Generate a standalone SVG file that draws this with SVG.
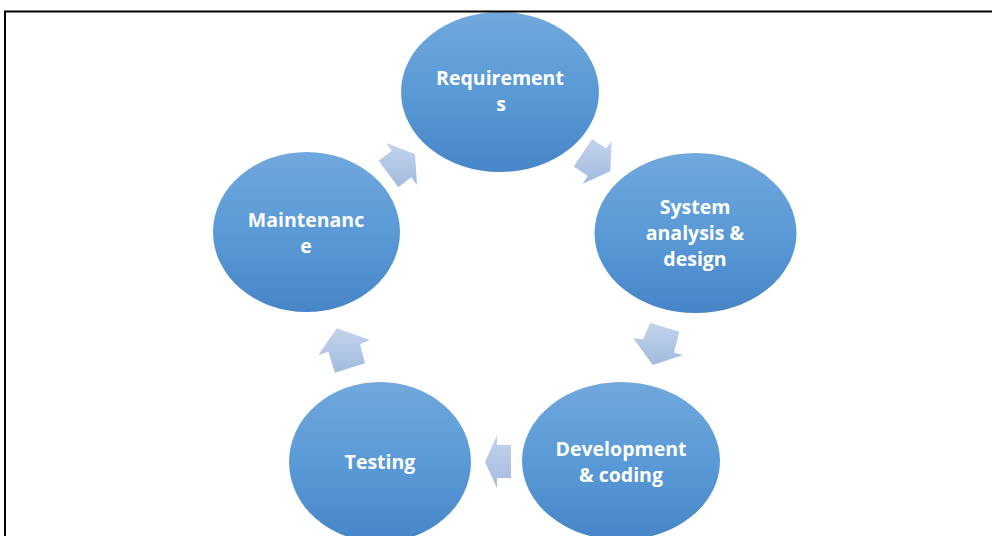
<svg xmlns="http://www.w3.org/2000/svg" width="992" height="536" viewBox="0 0 992 536">
<defs>
<linearGradient id="nodeGrad" x1="0" y1="0" x2="0" y2="1">
<stop offset="0" stop-color="#71a8dd"/>
<stop offset="0.5" stop-color="#5a9ad6"/>
<stop offset="1" stop-color="#4686c8"/>
</linearGradient>
<linearGradient id="arrGrad" x1="0" y1="0" x2="0" y2="1">
<stop offset="0" stop-color="#c3d4ec"/>
<stop offset="1" stop-color="#a2badf"/>
</linearGradient>
<style>
.node{fill:url(#nodeGrad);}
.lbl{font-family:"Open Sans",Lato,"Liberation Sans",sans-serif;font-weight:bold;font-size:19.5px;fill:#ffffff;text-anchor:middle;}
.arr{fill:url(#arrGrad);}
</style>
</defs>
<rect width="992" height="536" fill="#ffffff"/>
<g id="connectors">
<polygon class="arr" points="415,154 417,185 411.3,177.3 398.3,187.3 378.7,160.7 391.7,150.7 386,143"/>
<polygon class="arr" points="610.3,171.3 582.4,183.9 587.8,176 573.7,166.5 592.1,139.1 606.2,148.6 611.6,140.7"/>
<polygon class="arr" points="652.7,365 633.3,338.3 643.3,339.3 650,322.7 679.3,331.7 674,352.7 683.3,355"/>
<polygon class="arr" points="485,462 497,435 497,445 511,445 511,478 497,478 497,488"/>
<polygon class="arr" points="336.7,328.3 370,340 360,344 365,363.3 335,372.7 328.3,351.7 318.3,355"/>
</g>
<g id="requirements">
<ellipse class="node" cx="500" cy="92" rx="99" ry="80"/>
<text class="lbl" x="500" y="85">Requirement</text>
<text class="lbl" x="501" y="111">s</text>
</g>
<g id="system">
<ellipse class="node" cx="695.5" cy="233" rx="101" ry="80"/>
<text class="lbl" x="695" y="214">System</text>
<text class="lbl" x="695" y="240">analysis &amp;</text>
<text class="lbl" x="695" y="266">design</text>
</g>
<g id="development">
<ellipse class="node" cx="621" cy="461" rx="99" ry="79"/>
<text class="lbl" x="621" y="456">Development</text>
<text class="lbl" x="621" y="482">&amp; coding</text>
</g>
<g id="testing">
<ellipse class="node" cx="380" cy="462" rx="91" ry="80"/>
<text class="lbl" x="380" y="469">Testing</text>
</g>
<g id="maintenance">
<ellipse class="node" cx="306.5" cy="232" rx="93.5" ry="80"/>
<text class="lbl" x="306" y="227">Maintenanc</text>
<text class="lbl" x="306" y="253">e</text>
</g>
<path d="M5,540 V11.5 H1000" fill="none" stroke="#000000" stroke-width="2"/>
</svg>
